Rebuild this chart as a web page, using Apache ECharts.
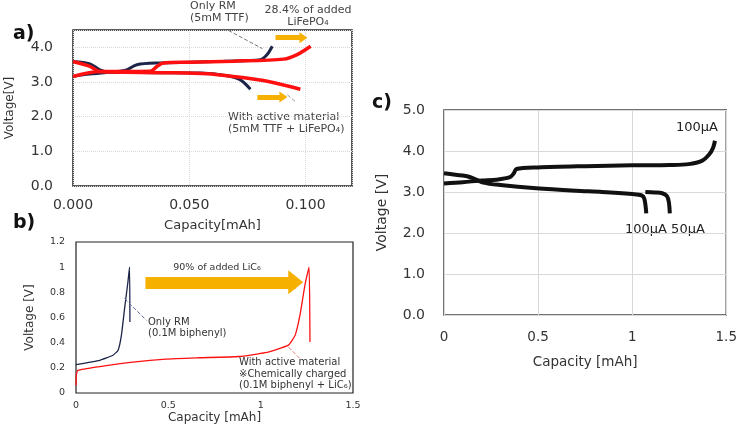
<!DOCTYPE html>
<html><head><meta charset="utf-8">
<script src="https://cdn.jsdelivr.net/npm/echarts@6/dist/echarts.min.js"></script>
<style>html,body{margin:0;padding:0;background:#fff}#c{width:740px;height:426px}</style>
</head><body><div id="c"></div>
<script>
// ---------- Panel a) 5mM TTF / LiFePO4 ----------
const aOnlyRMCharge = [[0,3.16],[0.006,3.22],[0.0188,3.30],[0.023,3.35],[0.0275,3.50],[0.0375,3.55],[0.05,3.57],[0.065,3.60],[0.0806,3.64],[0.0835,3.79],[0.0857,4.03]];
const aOnlyRMDischarge = [[0,3.59],[0.0073,3.52],[0.0116,3.35],[0.016,3.28],[0.035,3.27],[0.0547,3.26],[0.0662,3.18],[0.072,3.06],[0.0763,2.79]];
const aActiveCharge = [[0,3.16],[0.0116,3.30],[0.0332,3.31],[0.0361,3.45],[0.0389,3.55],[0.05,3.57],[0.069,3.60],[0.0906,3.66],[0.0964,3.79],[0.1022,4.03]];
const aActiveDischarge = [[0,3.59],[0.0073,3.45],[0.0116,3.30],[0.0404,3.27],[0.0576,3.24],[0.069,3.16],[0.0835,3.02],[0.0978,2.79]];
// ---------- Panel b) biphenyl / LiC6 ----------
const bOnlyRM = [[0,0.226],[0.129,0.26],[0.2,0.30],[0.228,0.34],[0.246,0.46],[0.263,0.67],[0.281,0.88],[0.29,1.0],[0.292,0.565]];
const bActive = [[0,0.06],[0.002,0.14],[0.01,0.18],[0.129,0.21],[0.308,0.246],[0.488,0.27],[0.667,0.28],[0.882,0.29],[1.025,0.32],[1.15,0.38],[1.187,0.46],[1.213,0.62],[1.24,0.86],[1.262,1.0],[1.267,0.405]];
// ---------- Panel c) ----------
const cCharge100 = [[0,3.21],[0.1,3.24],[0.2,3.28],[0.28,3.30],[0.35,3.36],[0.37,3.45],[0.385,3.56],[0.5,3.60],[0.75,3.63],[1.0,3.65],[1.2,3.66],[1.3,3.68],[1.37,3.76],[1.41,3.92],[1.43,4.08],[1.44,4.25]];
const cDischarge100 = [[0,3.46],[0.1,3.40],[0.14,3.36],[0.21,3.23],[0.3,3.17],[0.49,3.09],[0.7,3.03],[0.84,3.0],[1.0,2.95],[1.05,2.92],[1.065,2.83],[1.075,2.48]];
const cDischarge50 = [[1.07,3.0],[1.12,2.99],[1.16,2.97],[1.185,2.9],[1.195,2.75],[1.2,2.48]];
// ---------- annotation arrows & leaders (data coords) ----------
const aArrowCharge = [[0.0871,4.28],[0.0991,4.28]];
const aArrowDischarge = [[0.0793,2.57],[0.0905,2.57]];
const aLeaderRM = [[0.0668,4.49],[0.0815,3.96]];
const aLeaderActive = [[0.0922,2.63],[0.0957,2.43]];
const bArrow = [[0.376,0.88],[1.19,0.88]];
const bLeaderRM = [[0.263,0.75],[0.382,0.577]];
const bLeaderActive = [[1.15,0.366],[1.213,0.273]];

const FONT = 'DejaVu Sans';
const NAVY = '#1c2448', RED = '#ff1010', ORANGE = '#f5b000';

function arrow(pts, body, head){
  return {silent:true, symbol:['none','triangle'], symbolSize:[0, head], label:{show:false},
    lineStyle:{color:ORANGE, width:body, type:'solid', opacity:1}, emphasis:{disabled:true},
    data:[[{coord:pts[0], symbol:'none'},{coord:pts[1], symbol:'triangle', symbolSize:head}]]};
}
function leader(pts, color){
  return [{coord:pts[0], lineStyle:{color:color, type:'dashed', width:1}}, {coord:pts[1]}];
}

const chart = echarts.init(document.getElementById('c'));
const axLab = (size, extra) => Object.assign({fontFamily:FONT, fontSize:size, color:'#333'}, extra||{});
chart.setOption({
  animation:false,
  backgroundColor:'#fff',
  grid:[
    {left:73, top:30, width:279, height:156, show:true, borderColor:'#222', borderWidth:1.5, backgroundColor:'transparent'},
    {left:76, top:242, width:277, height:151, show:true, borderColor:'#222', borderWidth:1.2, backgroundColor:'transparent'},
    {left:444, top:110, width:284, height:205, show:true, borderColor:'#444', borderWidth:1.5, backgroundColor:'transparent'}
  ],
  xAxis:[
    {gridIndex:0, type:'value', min:0, max:0.12, interval:0.05, axisLine:{show:false}, axisTick:{show:false},
     splitLine:{show:true, lineStyle:{color:'#d8d8d8', type:'dotted'}},
     axisLabel:axLab(14, {margin:12, showMaxLabel:false, formatter:v=>v.toFixed(3)}),
     name:'Capacity[mAh]', nameLocation:'middle', nameGap:33, nameTextStyle:{fontFamily:FONT, fontSize:13, color:'#333'}},
    {gridIndex:1, type:'value', min:0, max:1.5, interval:0.5, axisLine:{show:false}, axisTick:{show:false}, splitLine:{show:false},
     axisLabel:axLab(9.5, {margin:8}),
     name:'Capacity [mAh]', nameLocation:'middle', nameGap:19, nameTextStyle:{fontFamily:FONT, fontSize:12, color:'#333'}},
    {gridIndex:2, type:'value', min:0, max:1.5, interval:0.5, axisLine:{show:false}, axisTick:{show:false},
     splitLine:{show:true, lineStyle:{color:'#d9d9d9', width:1}},
     axisLabel:axLab(13.5, {margin:15}),
     name:'Capacity [mAh]', nameLocation:'middle', nameGap:40, nameTextStyle:{fontFamily:FONT, fontSize:13.5, color:'#333'}}
  ],
  yAxis:[
    {gridIndex:0, type:'value', min:0, max:4.5, interval:1, axisLine:{show:false}, axisTick:{show:false},
     splitLine:{show:true, lineStyle:{color:'#d8d8d8', type:'dotted'}},
     axisLabel:axLab(14, {margin:20, showMaxLabel:false, formatter:v=>v.toFixed(1)}),
     name:'Voltage[V]', nameLocation:'middle', nameGap:57, nameTextStyle:{fontFamily:FONT, fontSize:12, color:'#333'}},
    {gridIndex:1, type:'value', min:0, max:1.2, interval:0.2, axisLine:{show:false}, axisTick:{show:false}, splitLine:{show:false},
     axisLabel:axLab(9.5, {margin:11}),
     name:'Voltage [V]', nameLocation:'middle', nameGap:40, nameTextStyle:{fontFamily:FONT, fontSize:12, color:'#333'}},
    {gridIndex:2, type:'value', min:0, max:5, interval:1, axisLine:{show:false}, axisTick:{show:false},
     splitLine:{show:true, lineStyle:{color:'#d9d9d9', width:1}},
     axisLabel:axLab(14, {margin:19, formatter:v=>v.toFixed(1)}),
     name:'Voltage [V]', nameLocation:'middle', nameGap:55, nameTextStyle:{fontFamily:FONT, fontSize:14, color:'#333'}}
  ],
  series:[
    {type:'line', xAxisIndex:0, yAxisIndex:0, data:aOnlyRMCharge, showSymbol:false, smooth:0.3, lineStyle:{color:NAVY, width:3}, clip:false,
     markLine:{silent:true, symbol:'none', label:{show:false}, data:[leader(aLeaderRM,'#777')]}},
    {type:'line', xAxisIndex:0, yAxisIndex:0, data:aOnlyRMDischarge, showSymbol:false, smooth:0.3, lineStyle:{color:NAVY, width:3}},
    {type:'line', xAxisIndex:0, yAxisIndex:0, data:aActiveCharge, showSymbol:false, smooth:0.3, lineStyle:{color:RED, width:3.5}, clip:false,
     markLine:arrow(aArrowCharge, 5, [11,8])},
    {type:'line', xAxisIndex:0, yAxisIndex:0, data:aActiveDischarge, showSymbol:false, smooth:0.3, lineStyle:{color:RED, width:3.5}, clip:false,
     markLine:{silent:true, symbol:'none', label:{show:false}, data:[leader(aLeaderActive,'#999')]}},
    {type:'line', xAxisIndex:0, yAxisIndex:0, data:[], showSymbol:false, clip:false, markLine:arrow(aArrowDischarge, 5, [11,8])},

    {type:'line', xAxisIndex:1, yAxisIndex:1, data:bOnlyRM, showSymbol:false, smooth:0.15, lineStyle:{color:NAVY, width:1.3},
     markLine:{silent:true, symbol:'none', label:{show:false}, data:[leader(bLeaderRM,'#5a6a9a')]}},
    {type:'line', xAxisIndex:1, yAxisIndex:1, data:bActive, showSymbol:false, smooth:0.15, lineStyle:{color:RED, width:1.3},
     markLine:{silent:true, symbol:'none', label:{show:false}, data:[leader(bLeaderActive,'#e98080')]}},
    {type:'line', xAxisIndex:1, yAxisIndex:1, data:[], showSymbol:false, markLine:arrow(bArrow, 12, [24,15])},

    {type:'line', xAxisIndex:2, yAxisIndex:2, data:cCharge100, showSymbol:false, smooth:0.3, lineStyle:{color:'#111', width:4}},
    {type:'line', xAxisIndex:2, yAxisIndex:2, data:cDischarge100, showSymbol:false, smooth:0.3, lineStyle:{color:'#111', width:4}},
    {type:'line', xAxisIndex:2, yAxisIndex:2, data:cDischarge50, showSymbol:false, smooth:0.3, lineStyle:{color:'#111', width:4}}
  ],
  graphic:[
    {type:'text', x:13, y:34, style:{text:'a)', font:'bold 19px "DejaVu Sans"', fill:'#111', verticalAlign:'middle'}},
    {type:'text', x:13, y:223, style:{text:'b)', font:'bold 19px "DejaVu Sans"', fill:'#111', verticalAlign:'middle'}},
    {type:'text', x:372, y:103, style:{text:'c)', font:'bold 19px "DejaVu Sans"', fill:'#111', verticalAlign:'middle'}},
    {type:'text', x:190, y:12, style:{text:'Only RM\n(5mM TTF)', font:'11px "DejaVu Sans"', lineHeight:12, fill:'#444', verticalAlign:'middle'}},
    {type:'text', x:308, y:16, style:{text:'28.4% of added\nLiFePO\u2084', font:'11px "DejaVu Sans"', lineHeight:12, fill:'#444', align:'center', verticalAlign:'middle'}},
    {type:'text', x:228, y:123, style:{text:'With active material\n(5mM TTF + LiFePO\u2084)', font:'11px "DejaVu Sans"', lineHeight:12, fill:'#444', verticalAlign:'middle'}},
    {type:'text', x:217, y:268, style:{text:'90% of added LiC\u2086', font:'9.5px "DejaVu Sans"', fill:'#333', align:'center', verticalAlign:'middle'}},
    {type:'text', x:148, y:328, style:{text:'Only RM\n(0.1M biphenyl)', font:'10px "DejaVu Sans"', lineHeight:11.5, fill:'#333', verticalAlign:'middle'}},
    {type:'text', x:239, y:374, style:{text:'With active material\n\u203BChemically charged\n(0.1M biphenyl + LiC\u2086)', font:'10px "DejaVu Sans"', lineHeight:11.5, fill:'#333', verticalAlign:'middle'}},
    {type:'text', x:718, y:128, style:{text:'100\u03BCA', font:'13px "DejaVu Sans"', fill:'#222', align:'right', verticalAlign:'middle'}},
    {type:'text', x:625, y:230, style:{text:'100\u03BCA 50\u03BCA', font:'13px "DejaVu Sans"', fill:'#222', verticalAlign:'middle'}}
  ]
});
</script></body></html>
